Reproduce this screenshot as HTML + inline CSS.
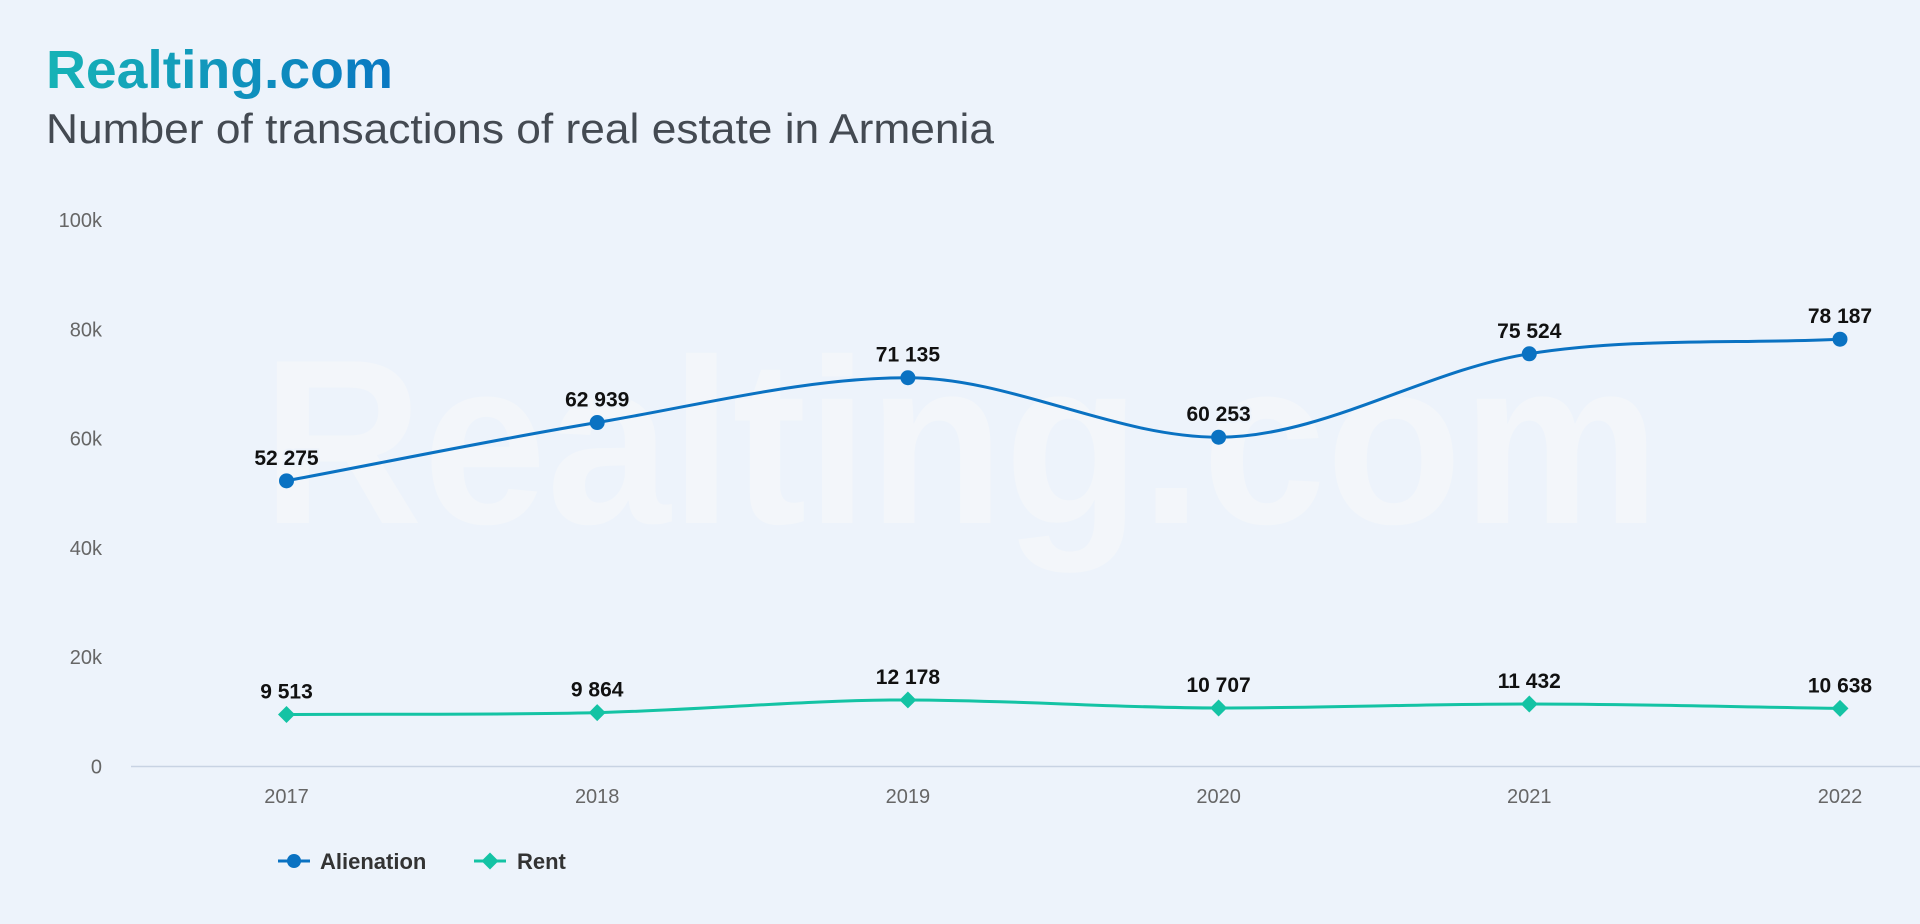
<!DOCTYPE html>
<html><head><meta charset="utf-8">
<style>
body{margin:0;width:1920px;height:919px;background:#edf3fb;overflow:hidden;font-family:"Liberation Sans",sans-serif;}
</style></head>
<body>
<svg id="chart" width="1920" height="919" xmlns="http://www.w3.org/2000/svg">
<defs>
<linearGradient id="tg" x1="0" x2="1" y1="0" y2="0"><stop offset="0" stop-color="#17b3b6"/><stop offset="1" stop-color="#0a78c2"/></linearGradient>
</defs>
<text x="262" y="523" font-size="235" font-weight="bold" fill="#f3f6fa" textLength="1398" lengthAdjust="spacingAndGlyphs">Realting.com</text>
<text x="46" y="88" font-size="54" font-weight="bold" fill="url(#tg)" textLength="347" lengthAdjust="spacingAndGlyphs">Realting.com</text>
<text x="46" y="143" font-size="42" fill="#444a52" textLength="948" lengthAdjust="spacingAndGlyphs">Number of transactions of real estate in Armenia</text>
<g id="grid"></g>
<g id="series"></g>
<g>
<g>
<line x1="278" y1="861" x2="310" y2="861" stroke="#0a72c2" stroke-width="3"/>
<circle cx="294" cy="861" r="7" fill="#0a72c2"/>
<text x="320" y="869" font-size="22" font-weight="bold" fill="#333">Alienation</text></g>
<g>
<line x1="474" y1="861" x2="506" y2="861" stroke="#14c3a4" stroke-width="3"/>
<rect x="484" y="855" width="12" height="12" fill="#14c3a4" transform="rotate(45 490 861)"/>
<text x="517" y="869" font-size="22" font-weight="bold" fill="#333">Rent</text></g>
</g>
</svg>
<script>
const categories=["2017","2018","2019","2020","2021","2022"];
const alienation=[52275,62939,71135,60253,75524,78187];
const rent=[9513,9864,12178,10707,11432,10638];
const yTicks=[0,20000,40000,60000,80000,100000];
const yTickLabels=["0","20k","40k","60k","80k","100k"];
const NS="http://www.w3.org/2000/svg";
const x0=286.5,x1=1840,yTop=220,yBot=766.5;
const xs=i=>x0+i*(x1-x0)/(categories.length-1);
const ys=v=>yBot-(v/100000)*(yBot-yTop);
const fmt=v=>String(v).replace(/\B(?=(\d{3})+(?!\d))/g," ");
function mk(tag,attrs,parent){const e=document.createElementNS(NS,tag);for(const k in attrs)e.setAttribute(k,attrs[k]);parent.appendChild(e);return e;}
const grid=document.getElementById('grid'),ser=document.getElementById('series');
yTicks.forEach((t,i)=>{const e=mk('text',{x:102,y:ys(t)+7,'font-size':20,fill:'#666','text-anchor':'end'},grid);e.textContent=yTickLabels[i];

});
const ax=mk('line',{x1:131,y1:yBot,x2:1920,y2:yBot,stroke:'#c8d3e3','stroke-width':1.5},grid);


categories.forEach((c,i)=>{const e=mk('text',{x:xs(i),y:803,'font-size':20,fill:'#666','text-anchor':'middle'},grid);e.textContent=c;

});
function path(vals){const p=vals.map((v,i)=>[xs(i),ys(v)]);let d=`M${p[0][0]},${p[0][1]}`;const s=1.5;
for(let i=0;i<p.length-1;i++){const a=p[i],b=p[i+1];const pa=p[i-1]||a,pb=p[i+2]||b;
const w=b[0]-a[0];
let m1=i===0?0:(b[1]-pa[1])/(b[0]-pa[0]);let m2=i+2>=p.length?0:(pb[1]-a[1])/(pb[0]-a[0]);
if(i>0&&((a[1]-pa[1])*(b[1]-a[1])<=0))m1=0;
if(i+2<p.length&&((b[1]-a[1])*(pb[1]-b[1])<=0))m2=0;
if(i===0)m1=(b[1]-a[1])/w;if(i===p.length-2)m2=(b[1]-a[1])/w;
d+=` C${a[0]+w/s/2},${a[1]+m1*w/s/2} ${b[0]-w/s/2},${b[1]-m2*w/s/2} ${b[0]},${b[1]}`;}return d;}
function series(vals,color,name,marker){
const pl=mk('path',{d:path(vals),fill:'none',stroke:color,'stroke-width':3},ser);


vals.forEach((v,i)=>{const x=xs(i),y=ys(v);let m;
if(marker==='circle')m=mk('circle',{cx:x,cy:y,r:7.5,fill:color},ser);
else m=mk('rect',{x:x-6,y:y-6,width:12,height:12,fill:color,transform:`rotate(45 ${x} ${y})`},ser);


const t=mk('text',{x:x,y:y-16,'font-size':21,'font-weight':'bold',fill:'#111','text-anchor':'middle',stroke:'#edf3fb','stroke-width':4,'paint-order':'stroke'},ser);t.textContent=fmt(v);

});}
series(alienation,'#0a72c2','alienation','circle');
series(rent,'#14c3a4','rent','diamond');
</script>
</body></html>
